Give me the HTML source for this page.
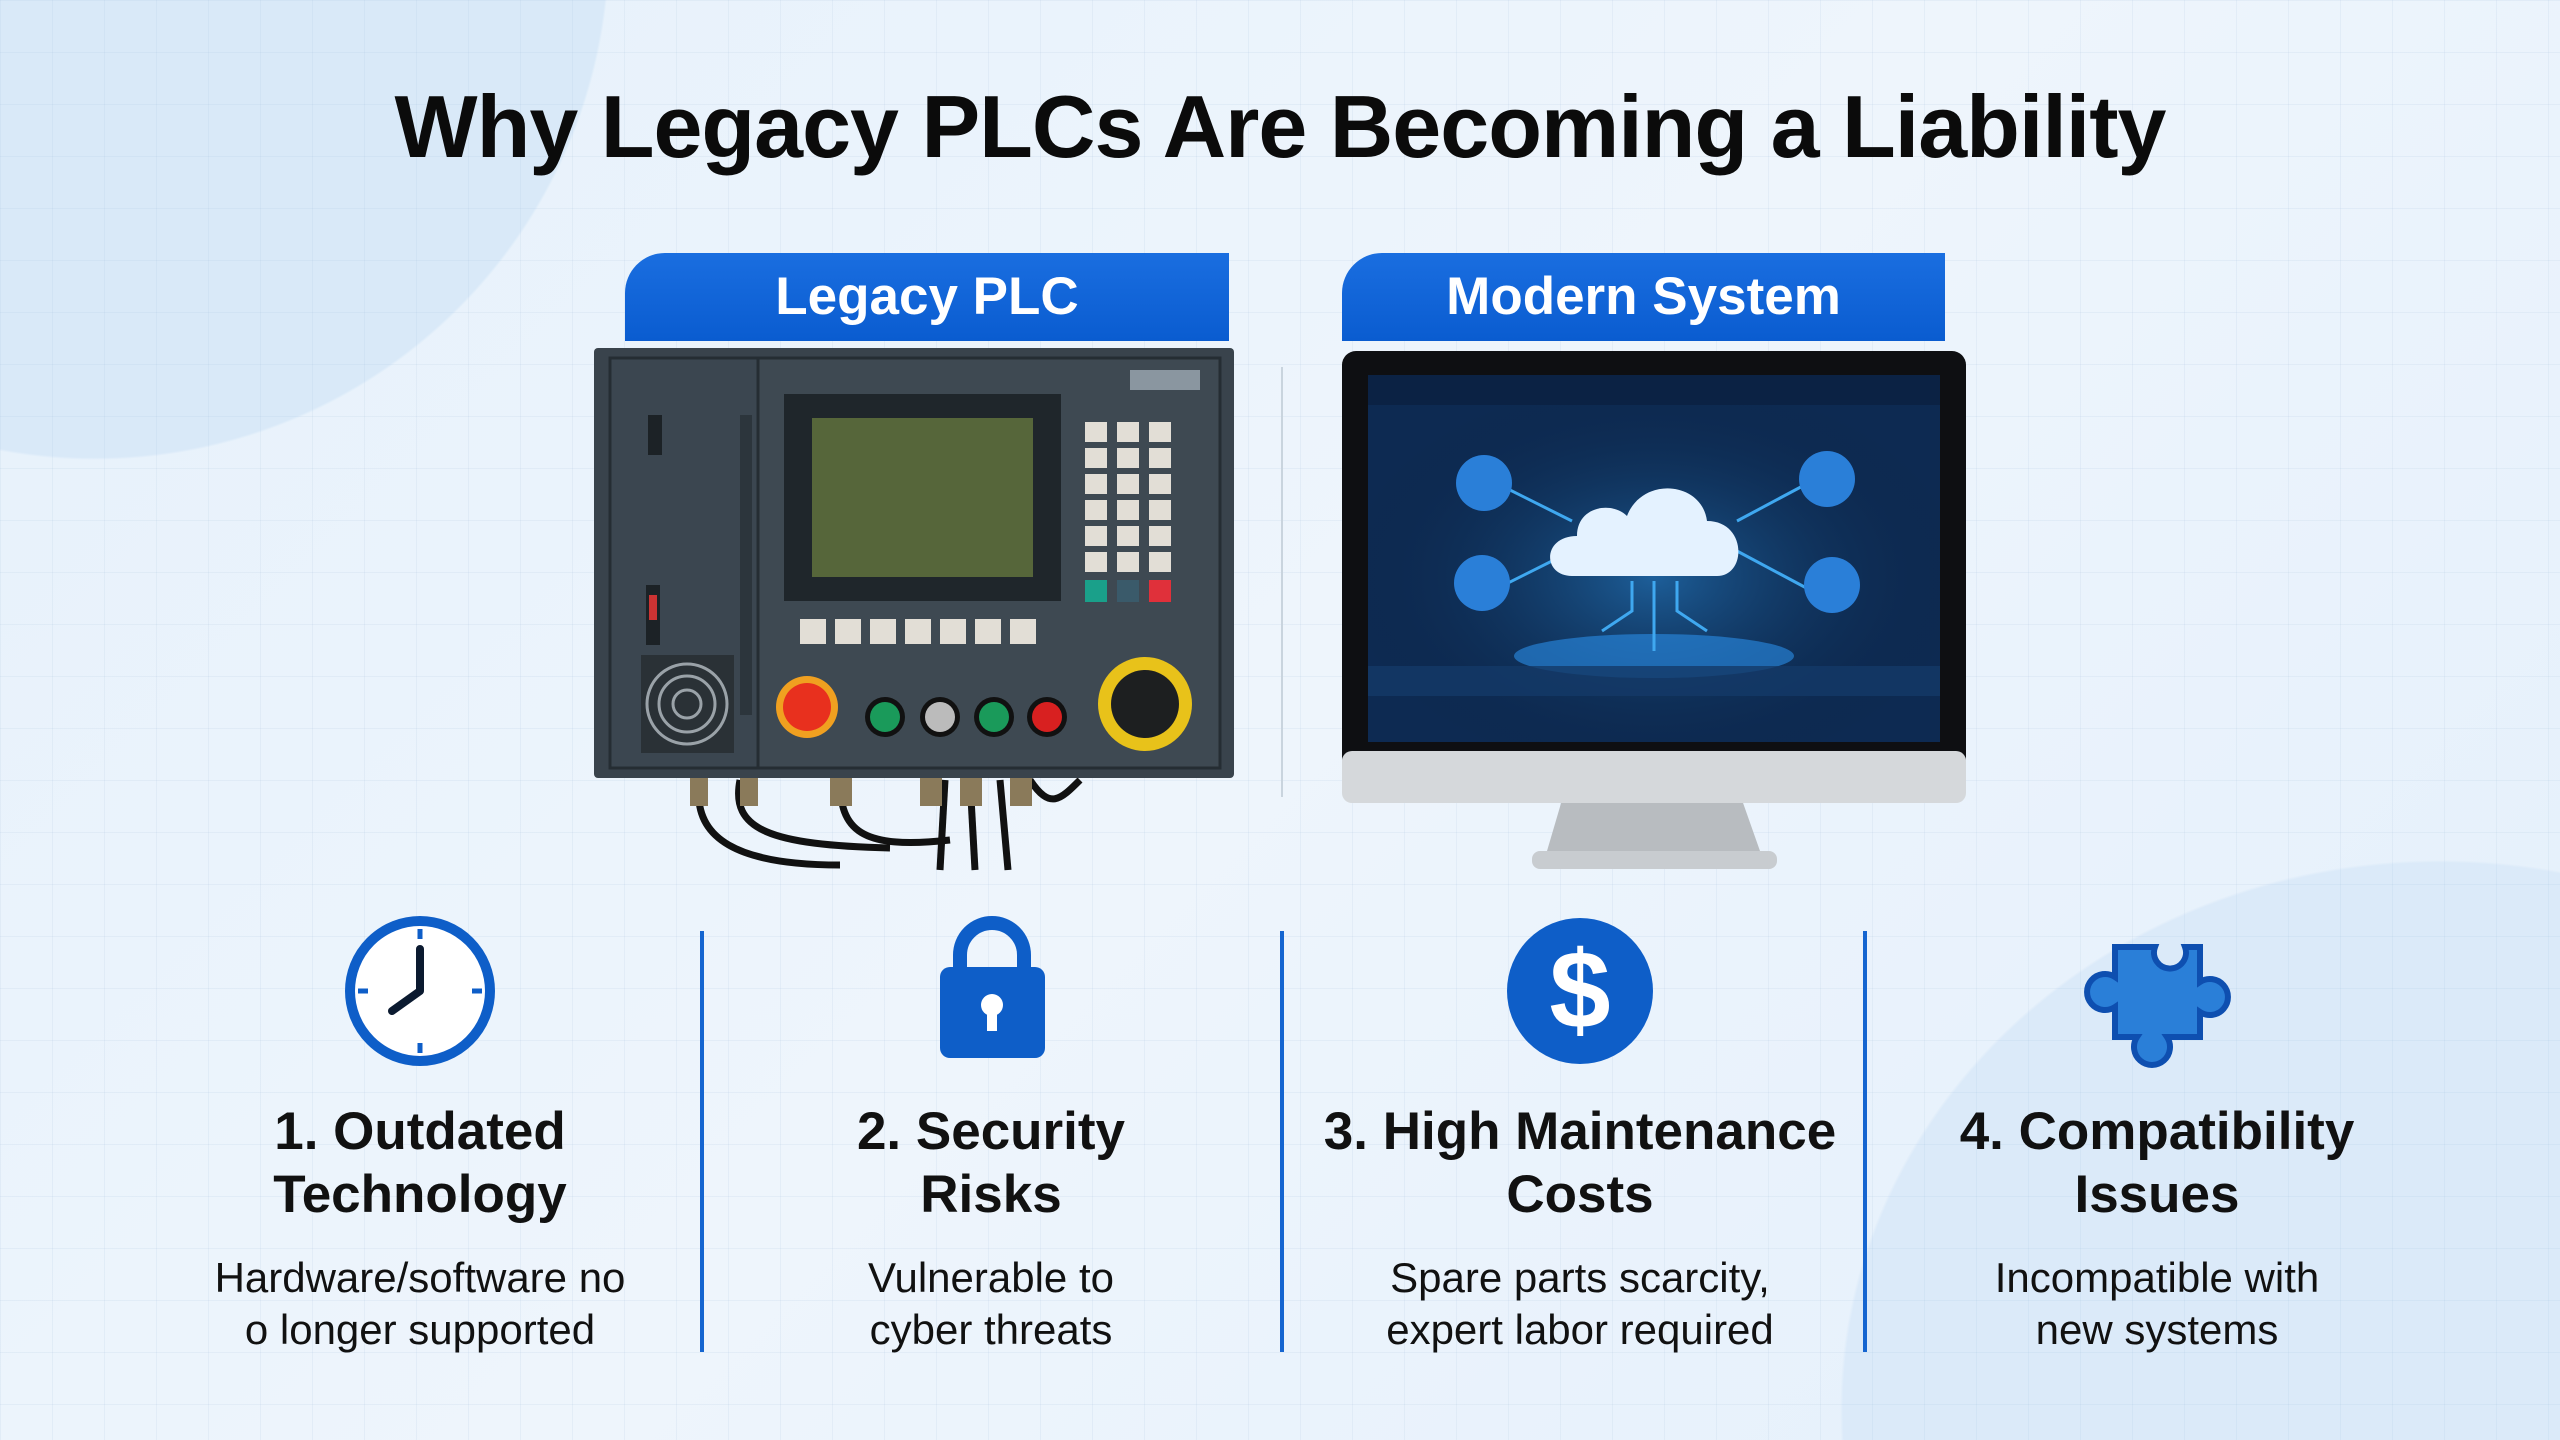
<!DOCTYPE html>
<html style="width:2560px;height:1440px;overflow:hidden"><head><meta charset="utf-8"><style>
*{margin:0;padding:0;box-sizing:border-box}
body{width:2560px;height:1440px;overflow:hidden;font-family:"Liberation Sans",sans-serif}
#w{position:relative;width:2560px;height:1440px;overflow:hidden;
background:radial-gradient(circle 515px at 95px -55px,#d9e9f8 99.5%,transparent 100%),radial-gradient(ellipse 600px 550px at 2440px 1410px,#dbeaf9 99.5%,transparent 100%),linear-gradient(135deg,#e6f1fb 0%,#eef5fc 50%,#e3effb 100%)}
.grid{position:absolute;left:0;top:0;width:2560px;height:1440px;background-image:linear-gradient(rgba(150,180,215,.12) 1px,transparent 1px),linear-gradient(90deg,rgba(150,180,215,.12) 1px,transparent 1px);background-size:52px 52px}
.abs{position:absolute}
.title{left:0;width:2560px;top:76px;text-align:center;font-weight:bold;font-size:88px;color:#0b0b0b;letter-spacing:-1px}
.tab{height:88px;top:253px;background:linear-gradient(#1a6ee0,#0a5cd0);color:#fff;font-weight:bold;font-size:53px;text-align:center;line-height:88px;border-radius:40px 0 0 0}
.vd{width:4px;background:#1565d0;top:931px;height:421px}
.col{width:560px;text-align:center;color:#111}
.h{font-weight:bold;font-size:53px;line-height:63px;top:1100px}
.d{font-size:42px;line-height:52px;top:1252px}
</style></head><body><div id="w">
<div class="grid"></div>
<div class="abs title">Why Legacy PLCs Are Becoming a Liability</div>
<div class="abs tab" style="left:625px;width:604px">Legacy PLC</div>
<div class="abs tab" style="left:1342px;width:603px">Modern System</div>
<div class="abs" style="left:1281px;top:367px;width:2px;height:430px;background:#c9d4de"></div>

<svg class="abs" style="left:590px;top:340px" width="650" height="540" viewBox="0 0 650 540">
<g fill="none" stroke="#111" stroke-width="7">
<path d="M110 440 C 100 500,150 525,250 525"/><path d="M150 440 C 140 490,180 505,300 508"/><path d="M250 440 C 250 490,270 510,360 500"/>
<path d="M355 440 L 350 530"/><path d="M380 440 L 385 530"/><path d="M410 440 L 418 530"/><path d="M440 440 C 460 470,470 460,490 440"/></g>
<g fill="#8a7a5a"><rect x="100" y="436" width="18" height="30"/><rect x="150" y="436" width="18" height="30"/><rect x="240" y="436" width="22" height="30"/><rect x="330" y="436" width="22" height="30"/><rect x="370" y="436" width="22" height="30"/><rect x="420" y="436" width="22" height="30"/></g>
<rect x="4" y="8" width="640" height="430" fill="#39434c" rx="4"/>
<rect x="20" y="18" width="148" height="410" fill="#3b4650" stroke="#252d33" stroke-width="3"/>
<rect x="168" y="18" width="462" height="410" fill="#3e4952" stroke="#252d33" stroke-width="3"/>
<rect x="540" y="30" width="70" height="20" fill="#8a96a0"/>
<rect x="58" y="75" width="14" height="40" fill="#1c2226"/>
<rect x="56" y="245" width="14" height="60" fill="#1c2226"/><rect x="59" y="255" width="8" height="25" fill="#c33"/>
<rect x="150" y="75" width="12" height="300" fill="#2c353c"/>
<rect x="194" y="54" width="277" height="207" fill="#1f262b"/>
<rect x="222" y="78" width="221" height="159" fill="#56663a"/>
<g fill="#e2ded6">
<rect x="495" y="82" width="22" height="20"/><rect x="527" y="82" width="22" height="20"/><rect x="559" y="82" width="22" height="20"/>
<rect x="495" y="108" width="22" height="20"/><rect x="527" y="108" width="22" height="20"/><rect x="559" y="108" width="22" height="20"/>
<rect x="495" y="134" width="22" height="20"/><rect x="527" y="134" width="22" height="20"/><rect x="559" y="134" width="22" height="20"/>
<rect x="495" y="160" width="22" height="20"/><rect x="527" y="160" width="22" height="20"/><rect x="559" y="160" width="22" height="20"/>
<rect x="495" y="186" width="22" height="20"/><rect x="527" y="186" width="22" height="20"/><rect x="559" y="186" width="22" height="20"/>
<rect x="495" y="212" width="22" height="20"/><rect x="527" y="212" width="22" height="20"/><rect x="559" y="212" width="22" height="20"/>
<rect x="210" y="279" width="26" height="25"/><rect x="245" y="279" width="26" height="25"/><rect x="280" y="279" width="26" height="25"/><rect x="315" y="279" width="26" height="25"/><rect x="350" y="279" width="26" height="25"/><rect x="385" y="279" width="26" height="25"/><rect x="420" y="279" width="26" height="25"/>
</g>
<rect x="495" y="240" width="22" height="22" fill="#1aa08a"/><rect x="527" y="240" width="22" height="22" fill="#3a5a6a"/><rect x="559" y="240" width="22" height="22" fill="#e0303a"/>
<rect x="51" y="315" width="93" height="98" fill="#2a3136"/>
<circle cx="97" cy="364" r="40" fill="none" stroke="#9aa2a8" stroke-width="3"/><circle cx="97" cy="364" r="28" fill="none" stroke="#9aa2a8" stroke-width="3"/><circle cx="97" cy="364" r="14" fill="none" stroke="#9aa2a8" stroke-width="3"/>
<circle cx="217" cy="367" r="31" fill="#f0a020"/><circle cx="217" cy="367" r="24" fill="#e8301e"/>
<circle cx="295" cy="377" r="20" fill="#111"/><circle cx="295" cy="377" r="15" fill="#1a9a5a"/>
<circle cx="350" cy="377" r="20" fill="#111"/><circle cx="350" cy="377" r="15" fill="#bbb"/>
<circle cx="404" cy="377" r="20" fill="#111"/><circle cx="404" cy="377" r="15" fill="#1a9a5a"/>
<circle cx="457" cy="377" r="20" fill="#111"/><circle cx="457" cy="377" r="15" fill="#d82020"/>
<circle cx="555" cy="364" r="47" fill="#e8c21a"/><circle cx="555" cy="364" r="34" fill="#1d1f20"/>
</svg>

<svg class="abs" style="left:1342px;top:351px" width="624" height="525" viewBox="0 0 624 525">
<defs><radialGradient id="g" cx="50%" cy="55%" r="55%"><stop offset="0" stop-color="#1d5f9a"/><stop offset="1" stop-color="#0a1e3c" stop-opacity="0"/></radialGradient></defs>
<path d="M220 449 L 205 500 L 418 500 L 400 449 Z" fill="#b8bcc0"/>
<rect x="190" y="500" width="245" height="18" rx="8" fill="#c8ccd0"/>
<rect x="0" y="0" width="624" height="420" rx="14" fill="#0e0f12"/>
<rect x="0" y="400" width="624" height="52" rx="10" fill="#d5d8db"/>
<rect x="26" y="24" width="572" height="367" fill="#0d2a52"/>
<rect x="26" y="24" width="572" height="367" fill="url(#g)"/>
<ellipse cx="312" cy="305" rx="140" ry="22" fill="#2a8ee8" opacity=".6"/>
<g stroke="#3fa8f0" stroke-width="3" fill="none"><path d="M312 230 V300"/><path d="M290 230 V260 L260 280"/><path d="M335 230 V260 L365 280"/><path d="M230 170 L 150 130"/><path d="M395 170 L 470 130"/><path d="M230 200 L 150 240"/><path d="M395 200 L 470 240"/></g>
<g fill="#2a7fd8"><circle cx="142" cy="132" r="28"/><circle cx="485" cy="128" r="28"/><circle cx="140" cy="232" r="28"/><circle cx="490" cy="234" r="28"/></g>
<path d="M230 225 C 200 225 200 185 235 185 C 235 155 270 150 285 165 C 300 125 360 130 365 170 C 405 170 405 225 375 225 Z" fill="#e4f2ff"/>
<rect x="26" y="24" width="572" height="30" fill="#0a1e3c" opacity=".6"/>
<rect x="26" y="315" width="572" height="30" fill="#143a68" opacity=".8"/>
</svg>

<div class="abs vd" style="left:700px"></div>
<div class="abs vd" style="left:1280px"></div>
<div class="abs vd" style="left:1863px"></div>

<svg class="abs" style="left:340px;top:911px" width="160" height="160" viewBox="0 0 160 160">
<circle cx="80" cy="80" r="70" fill="#fff" stroke="#0e5ec8" stroke-width="10"/>
<g stroke="#0e5ec8" stroke-width="5"><path d="M80 18v10M80 132v10M18 80h10M132 80h10"/></g>
<path d="M80 80 V38 M80 80 L52 100" stroke="#0b1a30" stroke-width="8" stroke-linecap="round"/>
</svg>
<svg class="abs" style="left:935px;top:915px" width="115" height="145" viewBox="0 0 115 145">
<path d="M25 58 V40 a32 32 0 0 1 64 0 V58" fill="none" stroke="#0e5ec8" stroke-width="14"/>
<rect x="5" y="52" width="105" height="91" rx="10" fill="#0e5ec8"/>
<circle cx="57" cy="90" r="11" fill="#fff"/><rect x="52" y="92" width="10" height="24" fill="#fff"/>
</svg>
<svg class="abs" style="left:1505px;top:916px" width="150" height="150" viewBox="0 0 150 150">
<circle cx="75" cy="75" r="73" fill="#0e5ec8"/>
<text x="75" y="112" text-anchor="middle" font-family="Liberation Sans" font-weight="bold" font-size="110" fill="#fff">$</text>
</svg>
<svg class="abs" style="left:2075px;top:929px" width="175" height="148" viewBox="0 0 175 148">
<path d="M30 10 H70 a16 16 0 1 0 30 0 H115 V45 a18 18 0 1 1 0 30 V100 H82 a18 18 0 1 1 -30 0 H30 V70 a18 18 0 1 1 0 -30 Z" fill="#2a7fd8" stroke="#0e4fb0" stroke-width="6" transform="translate(10,8)"/>
</svg>

<div class="abs col h" style="left:140px">1. Outdated<br>Technology</div>
<div class="abs col d" style="left:140px">Hardware/software no<br>o longer supported</div>
<div class="abs col h" style="left:711px">2. Security<br>Risks</div>
<div class="abs col d" style="left:711px">Vulnerable to<br>cyber threats</div>
<div class="abs col h" style="left:1300px">3. High Maintenance<br>Costs</div>
<div class="abs col d" style="left:1300px">Spare parts scarcity,<br>expert labor required</div>
<div class="abs col h" style="left:1877px">4. Compatibility<br>Issues</div>
<div class="abs col d" style="left:1877px">Incompatible with<br>new systems</div>
</div></body></html>
